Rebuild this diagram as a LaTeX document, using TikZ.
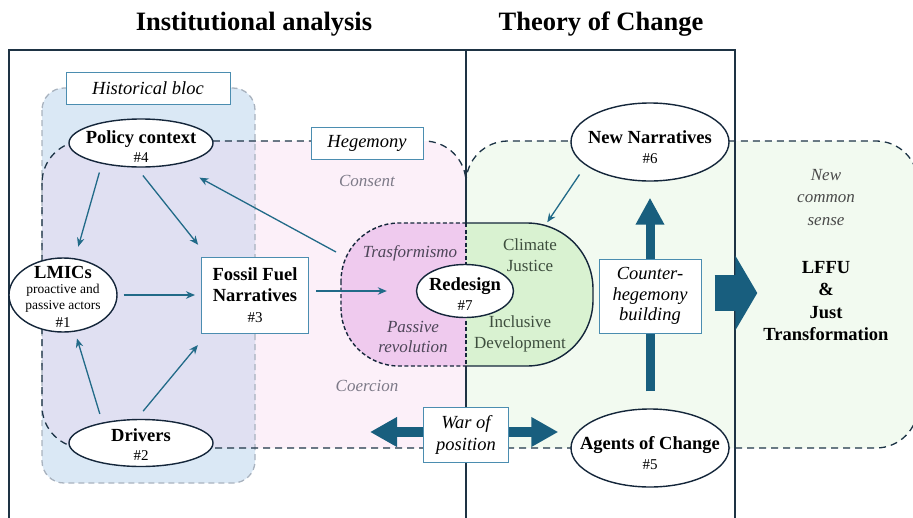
\documentclass[tikz,border=0pt]{standalone}
\usepackage{fontspec}
\setmainfont{Liberation Serif}
\usetikzlibrary{shapes.geometric,arrows.meta,calc}

\definecolor{frameline}{HTML}{1E3344}
\definecolor{nodeline}{HTML}{14263A}
\definecolor{boxline}{HTML}{4B8DB0}
\definecolor{regline}{HTML}{1D3446}
\definecolor{blocline}{HTML}{A9B3BF}
\definecolor{arrowblue}{HTML}{216A88}
\definecolor{fatblue}{HTML}{185E7E}
\definecolor{bluebg}{HTML}{DAE8F5}
\definecolor{lavbg}{HTML}{E0E0F2}
\definecolor{pinkbg}{HTML}{FCF0F9}
\definecolor{greenbg}{HTML}{F2FAF0}
\definecolor{pillpink}{HTML}{EFCAEE}
\definecolor{pillgreen}{HTML}{D9F2D1}
\definecolor{softgray}{HTML}{7D7A88}
\definecolor{pilltext}{HTML}{4D4658}
\definecolor{cjtext}{HTML}{3E4E3E}
\definecolor{ncstext}{HTML}{4A4A4A}

\newcommand{\titlesize}{\fontsize{26.5}{30}\selectfont}
\newcommand{\mainsize}{\fontsize{18.5}{20.5}\selectfont}
\newcommand{\softsize}{\fontsize{17}{21}\selectfont}
\newcommand{\tagno}[1]{{\mdseries\fontsize{15}{16}\selectfont\##1}}
\newcommand{\smalltext}[1]{{\mdseries\fontsize{13.5}{15}\selectfont #1}}

\begin{document}
\begin{tikzpicture}[x=1pt, y=-1pt, >={Stealth[length=9pt,width=7.5pt]},
  frame/.style={draw=frameline, line width=1.8pt},
  ell/.style={ellipse, draw=nodeline, line width=1.4pt, fill=white, inner sep=0pt},
  box/.style={draw=boxline, line width=1pt, fill=white, inner sep=0pt, align=center, font=\mainsize\itshape},
  txt/.style={align=center, inner sep=0pt, font=\mainsize\bfseries},
  soft/.style={align=center, inner sep=0pt, font=\softsize\itshape},
  conn/.style={->, draw=arrowblue, line width=1.3pt},
  fat/.style={draw=fatblue, line width=9pt, -{Triangle[length=27pt,width=27pt]}},
  regionline/.style={draw=regline, line width=1.3pt, dash pattern=on 7pt off 5pt}]

\useasboundingbox (0,0) rectangle (913,517);
\clip (0,0) rectangle (913,517);

% Titles
\node[font=\titlesize\bfseries] (tinst) at (254,24) {Institutional analysis};
\node[font=\titlesize\bfseries] (ttoc) at (601,24) {Theory of Change};

% Background regions
\fill[greenbg, rounded corners=42pt] (466,141) rectangle (918,448);
\fill[pinkbg, rounded corners=42pt] (42,141) rectangle (466,448);
\fill[bluebg, rounded corners=22pt] (42,88) rectangle (255,483);
\begin{scope}
  \clip[rounded corners=22pt] (42,88) rectangle (255,483);
  \fill[lavbg, rounded corners=42pt] (42,141) rectangle (466,448);
\end{scope}
\draw[blocline, line width=1.3pt, dash pattern=on 6pt off 4pt, rounded corners=22pt] (42,88) rectangle (255,483);
\draw[regionline, rounded corners=42pt] (42,141) rectangle (466,448);
\draw[regionline, rounded corners=42pt] (466,141) rectangle (918,448);

% Two panels
\draw[frame] (9,530) -- (9,50) -- (735,50) -- (735,530);
\draw[frame] (466,50) -- (466,530);

% Redesign pill, left and right halves
\begin{scope}
  \clip (300,200) rectangle (466,400);
  \filldraw[fill=pillpink, draw=nodeline, line width=1.4pt, dash pattern=on 4pt off 2.5pt, rounded corners=58pt] (341,223) rectangle (600,366);
\end{scope}
\begin{scope}
  \clip (466,200) rectangle (640,400);
  \filldraw[fill=pillgreen, draw=nodeline, line width=1.4pt, rounded corners=66pt] (330,223) rectangle (593,366);
\end{scope}
\draw[nodeline, line width=1.4pt, dash pattern=on 4pt off 2.5pt] (466,223) -- (466,366);

% Region labels
\node[soft, text=softgray] (consent) at (367,181) {Consent};
\node[soft, text=softgray] (coercion) at (367,386) {Coercion};
\node[soft, text=pilltext] (trasf) at (410,253) {Trasformismo};
\node[soft, text=pilltext] (passive) at (413,337) {Passive\\[-1pt]revolution};
\node[soft, font=\softsize, text=cjtext] (cj) at (530,255.5) {Climate\\Justice};
\node[soft, font=\softsize, text=cjtext] (incl) at (520,333.5) {Inclusive\\Development};
\node[soft, text=ncstext] (ncs) at (826,197.5) {New\\[1.5pt]common\\[1.5pt]sense};
\node[txt] (lffu) at (826,301) {LFFU\\[2pt]\&\\[2pt]Just\\[2pt]Transformation};

% Boxes
\node[box, minimum width=164pt, minimum height=32pt] (hist) at (148,88) {Historical bloc};
\node[box, minimum width=112pt, minimum height=32pt] (heg) at (367,143) {Hegemony};
\node[box, font=\mainsize\bfseries, minimum width=107pt, minimum height=76pt] (fossil) at (255,295) {Fossil Fuel\\[0.5pt]Narratives\\[0.5pt]\tagno{3}};

% Ellipses
\node[ell, minimum width=144pt, minimum height=48pt, label={[txt, yshift=-4pt]center:{Policy context\\[-1.5pt]\tagno{4}}}] (policy) at (141,143) {};
\node[ell, minimum width=108pt, minimum height=74pt, label={[txt, yshift=-2pt]center:{LMICs\\[-6pt]\smalltext{proactive and}\\[-4.5pt]\smalltext{passive actors}\\[-2pt]\tagno{1}}}] (lmics) at (63,295) {};
\node[ell, minimum width=144pt, minimum height=47pt, label={[txt, yshift=-2pt]center:{Drivers\\[-1.5pt]\tagno{2}}}] (drivers) at (141,443) {};
\node[ell, minimum width=97pt, minimum height=53pt, label={[txt, yshift=-3pt]center:{Redesign\\[-1pt]\tagno{7}}}] (redesign) at (465,291) {};
\node[ell, minimum width=158pt, minimum height=78pt, label={[txt, yshift=-5pt]center:{New Narratives\\[-0.5pt]\tagno{6}}}] (newnarr) at (650,142) {};
\node[ell, minimum width=158pt, minimum height=78pt, label={[txt, yshift=-5pt]center:{Agents of Change\\[-0.5pt]\tagno{5}}}] (agents) at (650,448) {};

% Thin links
\draw[conn, shorten <=9pt, shorten >=12pt] (policy.208) -- (lmics.72);
\draw[conn, shorten <=10pt, shorten >=15pt] (policy.260) -- (fossil.141);
\draw[conn, shorten <=9pt, shorten >=7pt] (drivers.152) -- (lmics.288);
\draw[conn, shorten <=10pt, shorten >=15pt] (drivers.100) -- (fossil.219);
\draw[conn, shorten <=6pt, shorten >=6pt] (lmics) -- (fossil);
\draw[conn, shorten <=7pt, shorten >=29pt] (fossil.east |- redesign) -- (redesign.west);
\coordinate (pillw) at (336,252);
\draw[conn, shorten >=27pt] (pillw) -- (policy.328);
\draw[conn, shorten <=11pt, shorten >=20pt] (newnarr.200) -- (cj.70);

% Counter-hegemony building
\draw[fat, shorten <=17pt, shorten >=16pt] (agents) -- (newnarr);
\node[box, minimum width=102pt, minimum height=74pt] (counter) at (650,296) {Counter-\\hegemony\\building};

% War of position
\coordinate (warend) at (370,432);
\draw[fat, line width=10pt, {Triangle[length=27pt,width=28pt]}-{Triangle[length=27pt,width=28pt]}, shorten >=12pt] (warend) -- (warend -| agents.west);
\node[box, minimum width=85pt, minimum height=55pt] (war) at (466,435) {War of\\[1.5pt]position};

% Towards the new common sense
\draw[draw=fatblue, line width=36pt, -{Triangle[length=22pt,width=74pt]}, shorten <=13pt, shorten >=6pt] ($(counter.east)+(0,-3)$) -- ($(counter.east -| lffu.west)+(0,-3)$);

\end{tikzpicture}
\end{document}
